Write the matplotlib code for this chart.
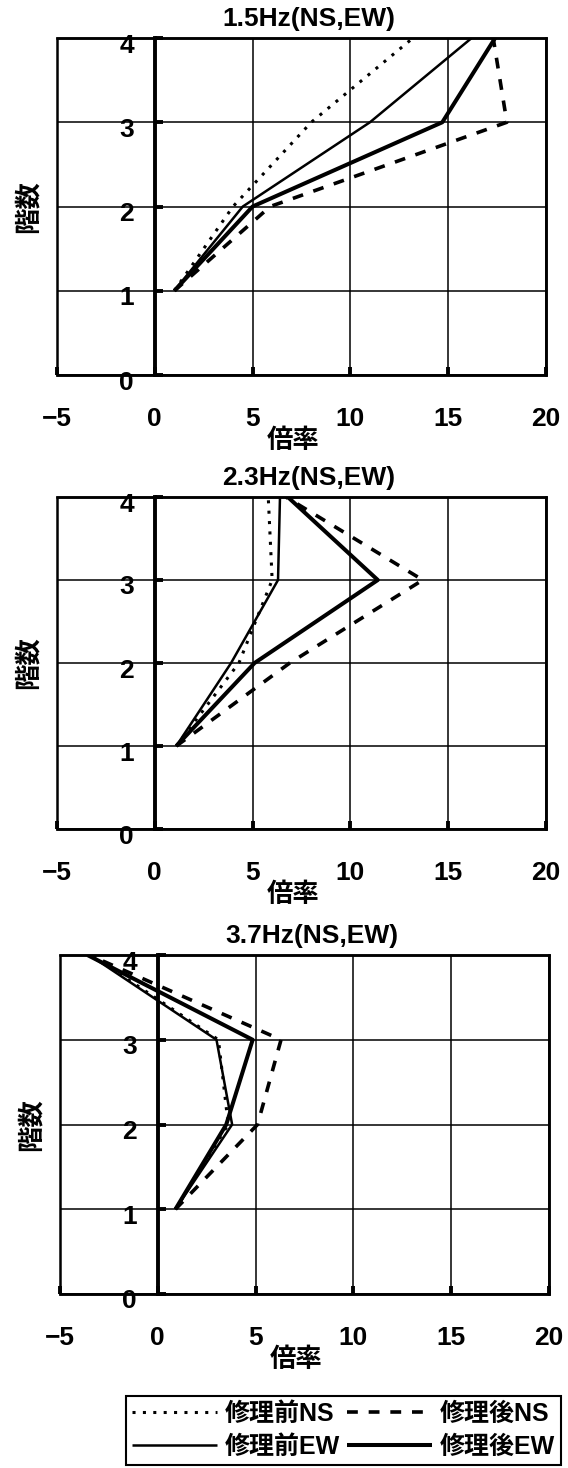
import matplotlib
matplotlib.use("Agg")
import matplotlib.pyplot as plt
from matplotlib.patches import Rectangle
from matplotlib.transforms import ScaledTranslation

plt.rcParams['font.family'] = ['Liberation Sans', 'Noto Sans CJK JP', 'DejaVu Sans']
plt.rcParams['font.weight'] = 'bold'
plt.rcParams['axes.unicode_minus'] = True

# ---------------- data ----------------
floors = [1, 2, 3, 4]
x_ticks = [-5, 0, 5, 10, 15, 20]
y_ticks = [0, 1, 2, 3, 4]
titles = ["1.5Hz(NS,EW)", "2.3Hz(NS,EW)", "3.7Hz(NS,EW)"]
series_labels = ["修理前NS", "修理後NS", "修理前EW", "修理後EW"]
x_label = "倍率"
y_label = "階数"

p1_pre_ns = [1.0, 4.0, 8.0, 13.2]
p1_post_ns = [1.0, 5.9, 18.0, 17.3]
p1_pre_ew = [1.0, 4.5, 11.0, 16.2]
p1_post_ew = [1.0, 5.0, 14.7, 17.4]

p2_pre_ns = [1.1, 4.3, 6.0, 5.8]
p2_post_ns = [1.1, 6.9, 13.7, 6.7]
p2_pre_ew = [1.1, 3.9, 6.3, 6.4]
p2_post_ew = [1.1, 5.1, 11.4, 6.8]

p3_pre_ns = [0.9, 3.6, 3.1, -3.4]
p3_post_ns = [0.9, 5.1, 6.3, -3.5]
p3_pre_ew = [0.9, 3.8, 3.0, -3.5]
p3_post_ew = [0.9, 3.5, 4.85, -3.6]

panels = [
    (p1_pre_ns, p1_post_ns, p1_pre_ew, p1_post_ew),
    (p2_pre_ns, p2_post_ns, p2_pre_ew, p2_post_ew),
    (p3_pre_ns, p3_post_ns, p3_pre_ew, p3_post_ew),
]

# ---------------- layout ----------------
W, H = 568, 1468
fig = plt.figure(figsize=(W / 100, H / 100), dpi=100)
boxes = [(57, 38, 546, 375), (57, 497, 546, 829), (60, 955, 549, 1294)]

styles = [
    dict(color='black', lw=2.2, linestyle=(0, (1.0, 2.4))),
    dict(color='black', lw=2.6, linestyle=(0, (3.0, 3.0))),
    dict(color='black', lw=1.8, linestyle='-'),
    dict(color='black', lw=2.9, linestyle='-'),
]

handles = None
for (l, t, r, b), title, data in zip(boxes, titles, panels):
    ax = fig.add_axes([l / W, 1 - b / H, (r - l) / W, (b - t) / H])
    ax.set_xlim(-5, 20)
    ax.set_ylim(0, 4)
    ax.set_xticks(x_ticks)
    ax.set_yticks(y_ticks)
    ax.grid(True, color='black', lw=1.1)
    ax.set_axisbelow(True)

    hs = []
    for vals, st in zip(data, styles):
        h, = ax.plot(vals, floors, solid_capstyle='butt', **st)
        hs.append(h)
    if handles is None:
        handles = hs

    # y axis crossing at x = 0
    ax.spines['left'].set_position(('data', 0))
    ax.spines['left'].set_linewidth(2.8)
    for s in ('top', 'right', 'bottom'):
        ax.spines[s].set_linewidth(1.8)
    ax.add_patch(Rectangle((0, 0), 1, 1, transform=ax.transAxes, fill=False,
                           lw=1.8, edgecolor='black', clip_on=False, zorder=5))

    ax.tick_params(axis='both', direction='in', length=6, width=2.8,
                   labelsize=19)
    ax.tick_params(axis='y', pad=15)
    ax.tick_params(axis='x', pad=23)
    for lab in ax.get_yticklabels():
        lab.set_transform(lab.get_transform() +
                          ScaledTranslation(0, -5 / 100, fig.dpi_scale_trans))

    hpx = b - t
    wpx = r - l
    ax.text((309 - 57) / wpx, 1 + 19 / hpx, title, transform=ax.transAxes,
            ha='center', va='center', fontsize=19, fontweight='bold')
    ax.text((293 - 57) / wpx, -66 / hpx, x_label, transform=ax.transAxes,
            ha='center', va='center', fontsize=19, fontweight='bold')
    ax.text((28 - 57) / wpx, 0.5, y_label, transform=ax.transAxes,
            ha='center', va='center', rotation=90, fontsize=19,
            fontweight='bold')

order = [0, 2, 1, 3]
leg = fig.legend([handles[i] for i in order], [series_labels[i] for i in order],
                 ncol=2, loc='lower right', bbox_to_anchor=(0.988, 0.002),
                 frameon=True, fancybox=False, edgecolor='black', framealpha=1,
                 fontsize=18, handlelength=3.4, handletextpad=0.3,
                 columnspacing=0.3, labelspacing=0.35, borderpad=0.25,
                 borderaxespad=0)
leg.get_frame().set_linewidth(1.5)

fig.savefig("out.png", dpi=100)
